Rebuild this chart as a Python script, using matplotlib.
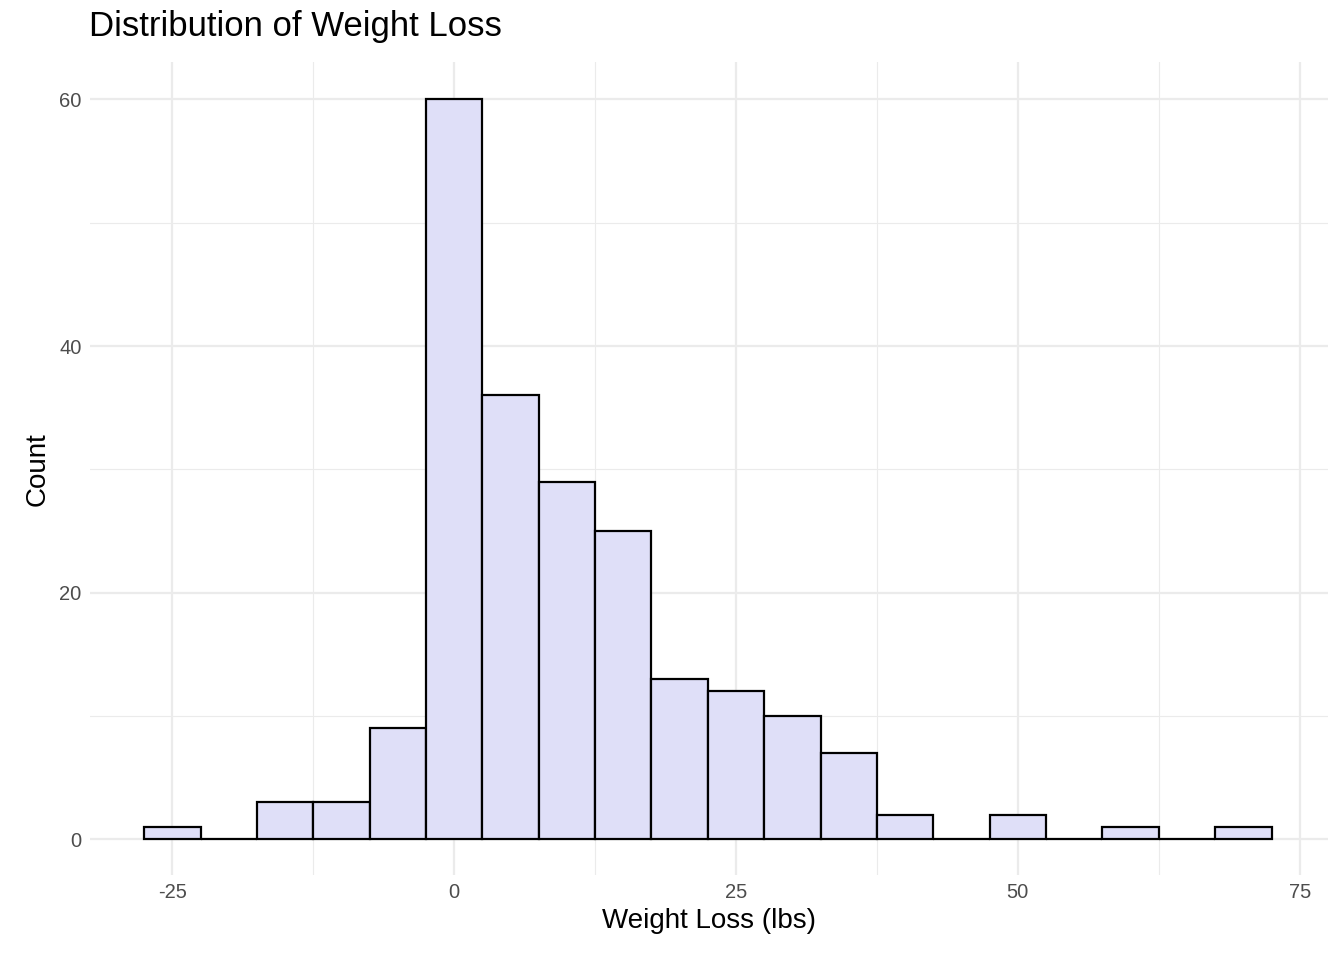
import matplotlib
matplotlib.use("Agg")
import matplotlib.pyplot as plt
from matplotlib.ticker import MultipleLocator

plt.rcParams['font.family'] = ['Liberation Sans', 'DejaVu Sans']
plt.rcParams['axes.unicode_minus'] = False

# histogram bins (centres, width 5) and counts
bin_centers = [-25, -20, -15, -10, -5, 0, 5, 10, 15, 20, 25, 30, 35, 40, 45, 50, 55, 60, 65, 70]
counts = [1, 0, 3, 3, 9, 60, 36, 29, 25, 13, 12, 10, 7, 2, 0, 2, 0, 1, 0, 1]
bin_width = 5

fig = plt.figure(figsize=(13.44, 9.6), dpi=100)
ax = fig.add_axes([0.067, 0.0885, 0.921, 0.8465])

ax.bar(bin_centers, counts, width=bin_width, color='#DFDFF8', edgecolor='black', linewidth=1.6, zorder=3)

ax.set_xlim(-32.3, 77.5)
ax.set_ylim(-2.9, 63)
ax.xaxis.set_major_locator(MultipleLocator(25))
ax.xaxis.set_minor_locator(MultipleLocator(12.5))
ax.yaxis.set_major_locator(MultipleLocator(20))
ax.yaxis.set_minor_locator(MultipleLocator(10))
ax.grid(which='major', color='#EBEBEB', linewidth=1.6, zorder=0)
ax.grid(which='minor', color='#EBEBEB', linewidth=0.8, zorder=0)
ax.tick_params(which='both', length=0, labelsize=14.5, labelcolor='#4D4D4D', pad=6)
for s in ax.spines.values():
    s.set_visible(False)

ax.set_xlabel('Weight Loss (lbs)', fontsize=20, labelpad=4)
ax.set_ylabel('Count', fontsize=20, labelpad=6)
fig.text(0.066, 0.955, 'Distribution of Weight Loss', fontsize=25, ha='left', va='bottom')

fig.savefig('out.png', dpi=100)
